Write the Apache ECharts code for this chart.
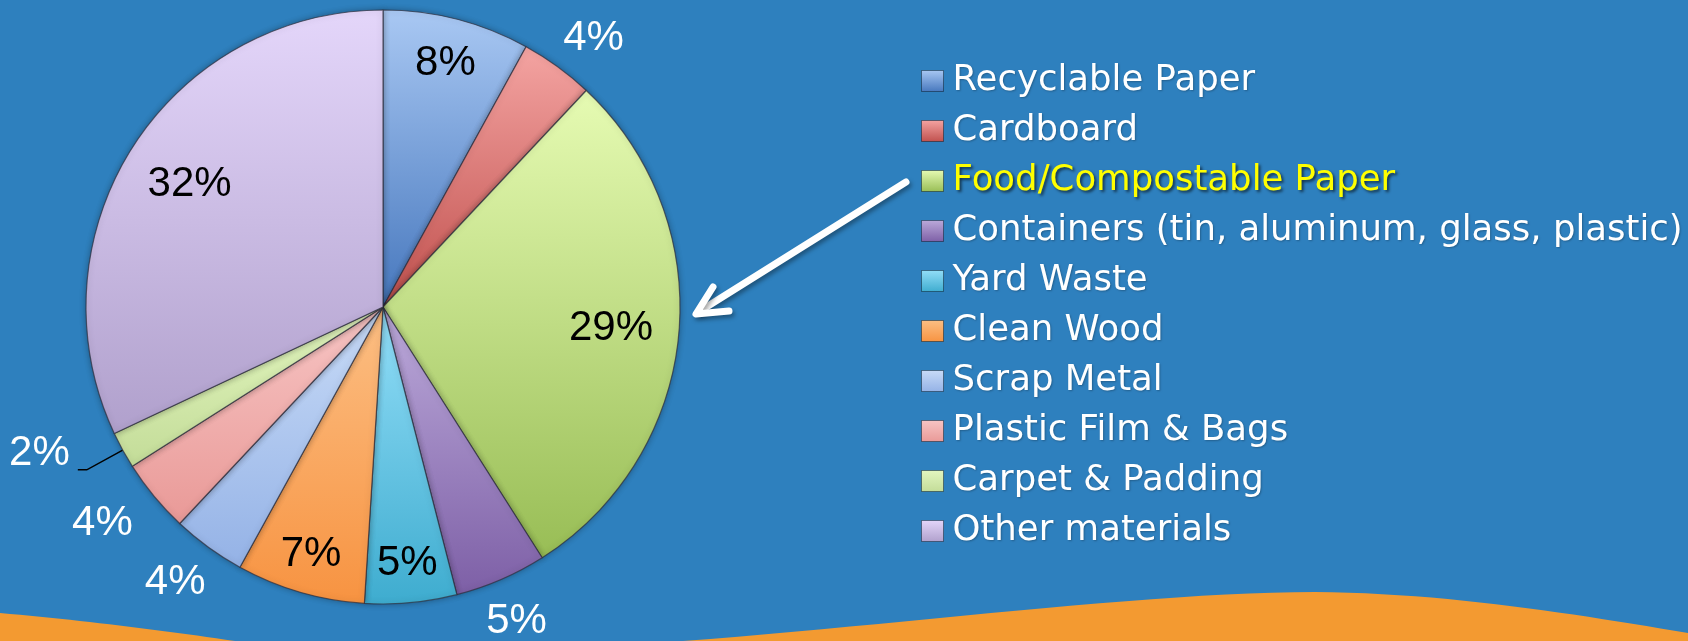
<!DOCTYPE html>
<html>
<head>
<meta charset="utf-8">
<script src="https://cdn.jsdelivr.net/npm/echarts@6/dist/echarts.min.js"></script>
<style>
  html, body { margin: 0; padding: 0; background: #2e80be; }
  #wasteChart { width: 1688px; height: 641px; }
</style>
</head>
<body>
<div id="wasteChart"></div>
<script>
const categories = [
  "Recyclable Paper",
  "Cardboard",
  "Food/Compostable Paper",
  "Containers (tin, aluminum, glass, plastic)",
  "Yard Waste",
  "Clean Wood",
  "Scrap Metal",
  "Plastic Film & Bags",
  "Carpet & Padding",
  "Other materials"
];
const shares = [8, 4, 29, 5, 5, 7, 4, 4, 2, 32];
const highlighted = "Food/Compostable Paper";

// light (top) -> dark (bottom) for each slice
const sliceColors = [
  ["#a9c8f3", "#4677bd"],
  ["#f4a4a2", "#c0504d"],
  ["#e6fbb3", "#98bd55"],
  ["#bcaada", "#7d5fa6"],
  ["#93def8", "#3eaccf"],
  ["#fcbf84", "#f79341"],
  ["#c8dbf7", "#94b2e6"],
  ["#f7c5c4", "#e99997"],
  ["#e3f6c0", "#c3dc98"],
  ["#e4d6fa", "#b0a0cc"]
];

const center = [383, 307];
const radius = 297;
const labelFont = "'Liberation Sans', Arial, sans-serif";

// outside labels: line length, second length, distance to line end
const outside = {
  1: { length: 35, length2: 0, distance: -15 },
  3: { length: 46, length2: 0, distance: -33 },
  6: { length: 44, length2: 0, distance: -23 },
  7: { length: 42, length2: 0, distance: -11 },
  8: { length: 41, length2: 9, distance: 8, line: true }
};

function grad(c) {
  return {
    type: "linear", x: 0, y: 0, x2: 0, y2: 1,
    colorStops: [
      { offset: 0, color: c[0] },
      { offset: 1, color: c[1] }
    ]
  };
}

// sample cubic bezier segments into polygon points (background wave)
function wave(start, segs, close) {
  const pts = [start];
  let p0 = start;
  segs.forEach(function (s) {
    for (let k = 1; k <= 24; k++) {
      const t = k / 24, u = 1 - t;
      pts.push([
        u * u * u * p0[0] + 3 * u * u * t * s[0][0] + 3 * u * t * t * s[1][0] + t * t * t * s[2][0],
        u * u * u * p0[1] + 3 * u * u * t * s[0][1] + 3 * u * t * t * s[1][1] + t * t * t * s[2][1]
      ]);
    }
    p0 = s[2];
  });
  return pts.concat(close);
}

const mainData = categories.map(function (name, i) {
  const item = {
    name: name,
    value: shares[i],
    itemStyle: { color: grad(sliceColors[i]) }
  };
  const o = outside[i];
  if (o) {
    item.label = {
      show: true,
      position: "outside",
      formatter: o.line ? "{c}%\n" : "{c}%",
      color: "#ffffff",
      fontSize: 42,
      lineHeight: o.line ? 32 : 42,
      fontFamily: labelFont,
      distanceToLabelLine: o.distance
    };
    item.labelLine = {
      show: !!o.line,
      length: o.length,
      length2: o.length2,
      lineStyle: { color: "#000000", width: 1.5 }
    };
  }
  return item;
});

// transparent rings only used to place the inside labels
function labelRing(mid, picks) {
  return {
    type: "pie",
    center: center,
    radius: [mid - 6, mid],
    startAngle: 90,
    clockwise: true,
    silent: true,
    avoidLabelOverlap: false,
    itemStyle: { color: "transparent", borderWidth: 0 },
    emphasis: { disabled: true },
    labelLine: { show: false },
    data: categories.map(function (name, i) {
      return {
        name: name,
        value: shares[i],
        label: {
          show: picks.indexOf(i) >= 0,
          position: "inside",
          formatter: "{c}%",
          color: "#000000",
          fontSize: 42,
          fontFamily: labelFont
        }
      };
    })
  };
}

const legendData = categories.map(function (name) {
  if (name === highlighted) {
    return {
      name: name,
      textStyle: {
        color: "#ffff00",
        textShadowColor: "rgba(0,0,0,0.6)",
        textShadowBlur: 3,
        textShadowOffsetX: 2,
        textShadowOffsetY: 2
      }
    };
  }
  return name;
});

const chart = echarts.init(document.getElementById("wasteChart"));

const option = {
  backgroundColor: "#2e80be",
  animation: false,
  legend: {
    orient: "vertical",
    left: 916,
    top: 58,
    icon: "rect",
    itemWidth: 22,
    itemHeight: 21,
    itemGap: 14,
    selectedMode: false,
    data: legendData,
    textStyle: {
      color: "#ffffff",
      fontSize: 35.5,
      lineHeight: 35,
      padding: [0, 0, 0, 4],
      fontFamily: "'DejaVu Sans', sans-serif",
      textShadowColor: "rgba(0,0,0,0.25)",
      textShadowBlur: 2,
      textShadowOffsetX: 1,
      textShadowOffsetY: 1
    },
    itemStyle: { borderColor: "rgba(0,0,0,0.4)", borderWidth: 1 }
  },
  graphic: [
    {
      type: "polygon",
      silent: true,
      z: -10,
      shape: { points: wave([0, 613], [[[80, 620], [160, 630], [235, 641]]], [[0, 641]]) },
      style: { fill: "#f39a31" }
    },
    {
      type: "polygon",
      silent: true,
      z: -10,
      shape: {
        points: wave([683, 641], [
          [[900, 625], [1150, 592], [1315, 592]],
          [[1450, 593], [1580, 615], [1688, 633]]
        ], [[1688, 641]])
      },
      style: { fill: "#f39a31" }
    },
    {
      type: "polyline",
      silent: true,
      shape: { points: [[906, 182], [700, 311]] },
      style: {
        stroke: "#ffffff", lineWidth: 7, lineCap: "round",
        shadowColor: "rgba(0,0,0,0.35)", shadowBlur: 4, shadowOffsetX: 2, shadowOffsetY: 3
      }
    },
    {
      type: "polyline",
      silent: true,
      shape: { points: [[713, 287], [696, 314], [729, 311]] },
      style: {
        stroke: "#ffffff", lineWidth: 7, lineCap: "round", lineJoin: "round",
        shadowColor: "rgba(0,0,0,0.35)", shadowBlur: 4, shadowOffsetX: 2, shadowOffsetY: 3
      }
    }
  ],
  series: [
    {
      type: "pie",
      center: center,
      radius: radius,
      startAngle: 90,
      clockwise: true,
      avoidLabelOverlap: false,
      itemStyle: {
        borderColor: "rgba(45,45,60,0.7)",
        borderWidth: 1.2,
        shadowColor: "rgba(0,0,0,0.3)",
        shadowBlur: 6
      },
      label: { show: false, formatter: "{c}%" },
      labelLine: { show: false },
      emphasis: { disabled: true },
      data: mainData
    },
    labelRing(251, [0]),
    labelRing(258, [4, 5]),
    labelRing(229, [2, 9])
  ]
};

chart.setOption(option);

window.addEventListener("resize", function () {
  chart.resize();
});
</script>
</body>
</html>
